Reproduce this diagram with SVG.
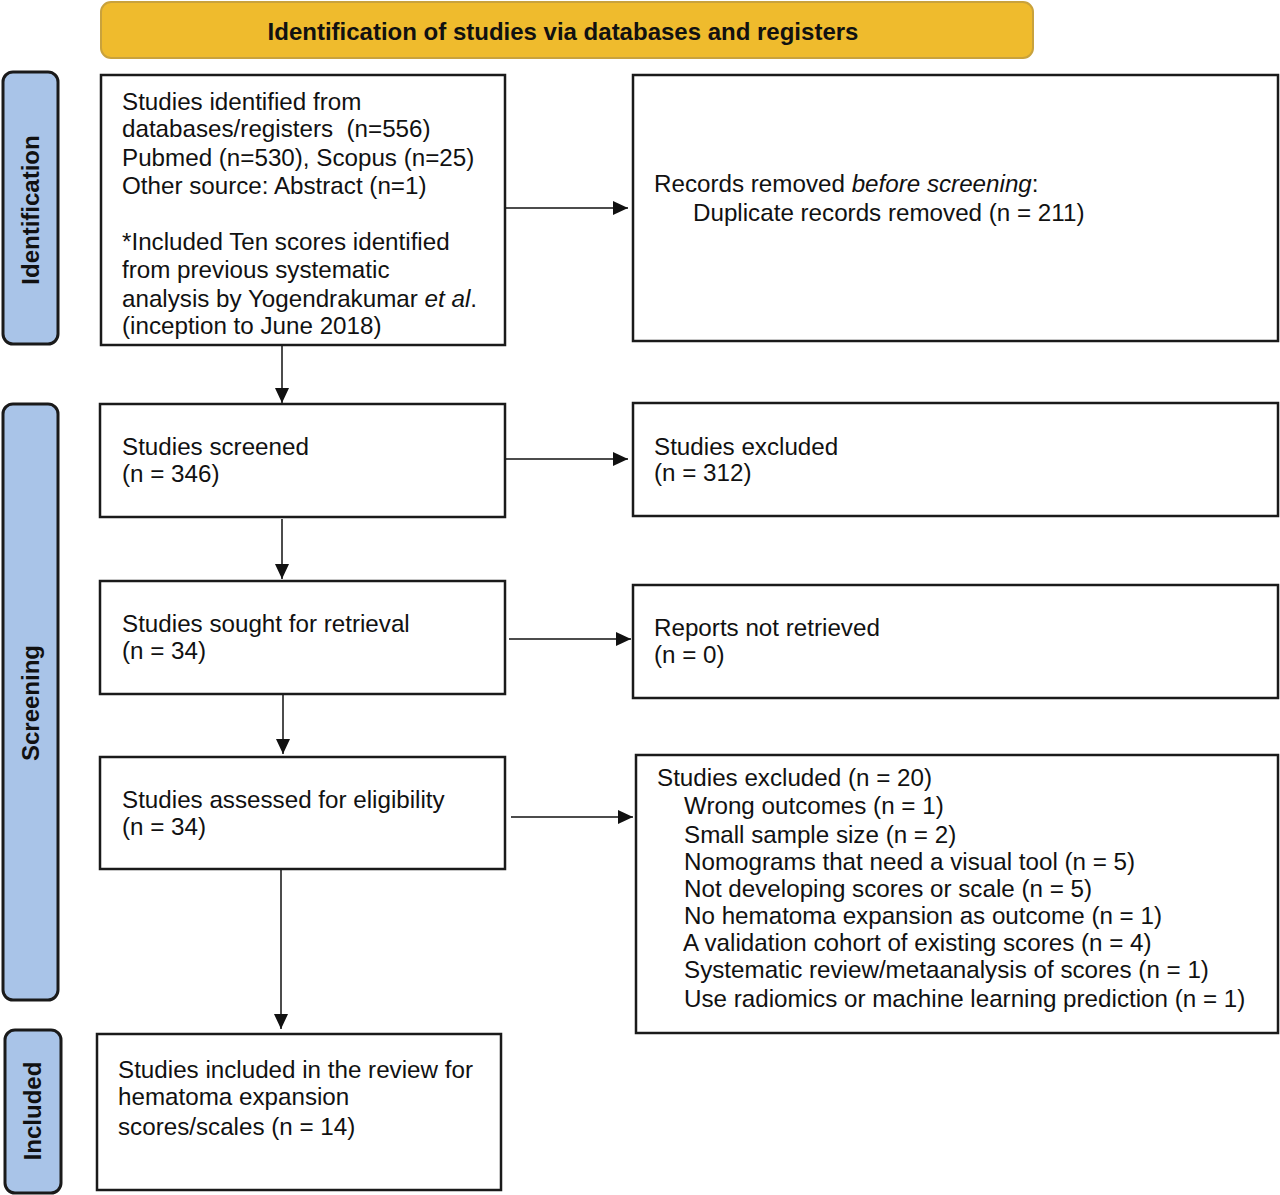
<svg xmlns="http://www.w3.org/2000/svg" width="1280" height="1195" viewBox="0 0 1280 1195">
<style>
.box{fill:#fff;stroke:#1a1a1a;stroke-width:2.5}
.side{fill:#A9C4E8;stroke:#1a1a1a;stroke-width:3}
.t{font-family:"Liberation Sans",Arial,sans-serif;font-size:24.2px;fill:#111}
.b{font-family:"Liberation Sans",Arial,sans-serif;font-size:24px;font-weight:bold;fill:#111}
.c{stroke:#111;stroke-width:1.5;fill:none;marker-end:url(#ah)}
</style>
<defs>
<marker id="ah" markerUnits="userSpaceOnUse" markerWidth="16" markerHeight="14" refX="15" refY="7" orient="auto">
<path d="M0,0 L15,7 L0,14 z" fill="#111"/>
</marker>
</defs>
<rect width="1280" height="1195" fill="#fff"/>
<g id="header">
<rect x="101" y="2" width="932" height="56" rx="10" fill="#EFBB2D" stroke="#C9A23C" stroke-width="2"/>
<text class="b" x="563" y="40" text-anchor="middle">Identification of studies via databases and registers</text>
</g>
<g id="lbl-identification">
<rect class="side" x="3" y="72" width="55" height="272" rx="10"/>
<text class="b" transform="translate(39,210) rotate(-90)" text-anchor="middle">Identification</text>
</g>
<g id="lbl-screening">
<rect class="side" x="3" y="404" width="55" height="596" rx="10"/>
<text class="b" transform="translate(39,703) rotate(-90)" text-anchor="middle">Screening</text>
</g>
<g id="lbl-included">
<rect class="side" x="5" y="1030" width="56" height="163" rx="10"/>
<text class="b" transform="translate(41,1111) rotate(-90)" text-anchor="middle">Included</text>
</g>
<g id="n-identified">
<rect class="box" x="101" y="75" width="404" height="270"/>
<text class="t" x="122" y="110">Studies identified from</text>
<text class="t" x="122" y="137" xml:space="preserve">databases/registers  (n=556)</text>
<text class="t" x="122" y="166">Pubmed (n=530), Scopus (n=25)</text>
<text class="t" x="122" y="194">Other source: Abstract (n=1)</text>
<text class="t" x="122" y="250">*Included Ten scores identified</text>
<text class="t" x="122" y="278">from previous systematic</text>
<text class="t" x="122" y="307">analysis by Yogendrakumar <tspan font-style="italic">et al</tspan>.</text>
<text class="t" x="122" y="334">(inception to June 2018)</text>
</g>
<g id="n-removed">
<rect class="box" x="633" y="75" width="645" height="266"/>
<text class="t" x="654" y="192">Records removed <tspan font-style="italic">before screening</tspan>:</text>
<text class="t" x="693" y="221">Duplicate records removed (n = 211)</text>
</g>
<g id="n-screened">
<rect class="box" x="100" y="404" width="405" height="113"/>
<text class="t" x="122" y="455">Studies screened</text>
<text class="t" x="122" y="482">(n = 346)</text>
</g>
<g id="n-excluded1">
<rect class="box" x="633" y="403" width="645" height="113"/>
<text class="t" x="654" y="455">Studies excluded</text>
<text class="t" x="654" y="481">(n = 312)</text>
</g>
<g id="n-sought">
<rect class="box" x="100" y="581" width="405" height="113"/>
<text class="t" x="122" y="632">Studies sought for retrieval</text>
<text class="t" x="122" y="659">(n = 34)</text>
</g>
<g id="n-notretrieved">
<rect class="box" x="633" y="585" width="645" height="113"/>
<text class="t" x="654" y="636">Reports not retrieved</text>
<text class="t" x="654" y="663">(n = 0)</text>
</g>
<g id="n-assessed">
<rect class="box" x="100" y="757" width="405" height="112"/>
<text class="t" x="122" y="808">Studies assessed for eligibility</text>
<text class="t" x="122" y="835">(n = 34)</text>
</g>
<g id="n-excluded2">
<rect class="box" x="636" y="755" width="642" height="278"/>
<text class="t" x="657" y="786">Studies excluded (n = 20)</text>
<text class="t" x="684" y="814">Wrong outcomes (n = 1)</text>
<text class="t" x="684" y="843">Small sample size (n = 2)</text>
<text class="t" x="684" y="870">Nomograms that need a visual tool (n = 5)</text>
<text class="t" x="684" y="897">Not developing scores or scale (n = 5)</text>
<text class="t" x="684" y="924">No hematoma expansion as outcome (n = 1)</text>
<text class="t" x="683" y="951">A validation cohort of existing scores (n = 4)</text>
<text class="t" x="684" y="978">Systematic review/metaanalysis of scores (n = 1)</text>
<text class="t" x="684" y="1007">Use radiomics or machine learning prediction (n = 1)</text>
</g>
<g id="n-included">
<rect class="box" x="97" y="1034" width="404" height="156"/>
<text class="t" x="118" y="1078">Studies included in the review for</text>
<text class="t" x="118" y="1105">hematoma expansion</text>
<text class="t" x="118" y="1135">scores/scales (n = 14)</text>
</g>
<g id="connectors">
<path class="c" d="M506,208 L628,208"/>
<path class="c" d="M282,346 L282,403"/>
<path class="c" d="M506,459 L628,459"/>
<path class="c" d="M282,519 L282,579"/>
<path class="c" d="M509,639 L631,639"/>
<path class="c" d="M283,695 L283,754"/>
<path class="c" d="M511,817 L633,817"/>
<path class="c" d="M281,870 L281,1029"/>
</g>
</svg>
